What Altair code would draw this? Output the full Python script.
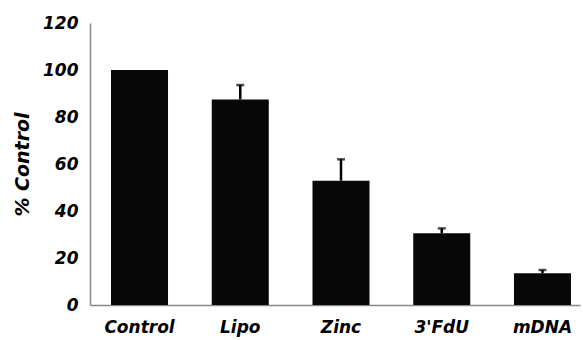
import altair as alt
import pandas as pd

categories = ["Control", "Lipo", "Zinc", "3'FdU", "mDNA"]
values = [100, 87.5, 52.9, 30.5, 13.5]
err_top = [100, 93.6, 62.0, 32.6, 14.9]
has_err = [False, True, True, True, True]

df = pd.DataFrame({"cat": categories, "val": values, "top": err_top, "err": has_err})
FONT = "DejaVu Sans"

x = alt.X("cat:N", sort=categories,
          scale=alt.Scale(paddingInner=0.434, paddingOuter=0.149, align=0.7),
          axis=alt.Axis(title=None, labelAngle=0, labelFont=FONT, labelFontSize=17,
                        labelFontWeight="bold", labelFontStyle="italic", labelColor="black",
                        labelPadding=14, ticks=False, domainColor="#888888", domainWidth=1.5))
y = alt.Y("val:Q", scale=alt.Scale(domain=[0, 120], nice=False),
          axis=alt.Axis(title="% Control", values=[0, 20, 40, 60, 80, 100, 120],
                        labelFont=FONT, labelFontSize=17, labelFontWeight="bold",
                        labelFontStyle="italic", labelColor="black", labelPadding=12,
                        ticks=False, grid=False, domainColor="#888888", domainWidth=1.5,
                        titleFont=FONT, titleFontSize=19, titleFontWeight="bold",
                        titleFontStyle="italic", titleColor="black", titlePadding=10))

bars = alt.Chart(df).mark_bar(color="#080808").encode(x=x, y=y)
errd = alt.Chart(df).transform_filter("datum.err")
stems = errd.mark_rule(color="black", strokeWidth=2.5).encode(
    x=alt.X("cat:N", sort=categories), y="val:Q", y2="top:Q")
caps = errd.mark_tick(color="black", thickness=2.5, size=8).encode(
    x=alt.X("cat:N", sort=categories), y="top:Q")

chart = alt.layer(bars, stems, caps).properties(
    width=490, height=282,
    autosize=alt.AutoSizeParams(type="none"),
    padding={"left": 90, "top": 23, "right": 3, "bottom": 35},
).configure_view(stroke=None)

chart.save("out.html", embed_options={"renderer": "svg", "actions": False})
